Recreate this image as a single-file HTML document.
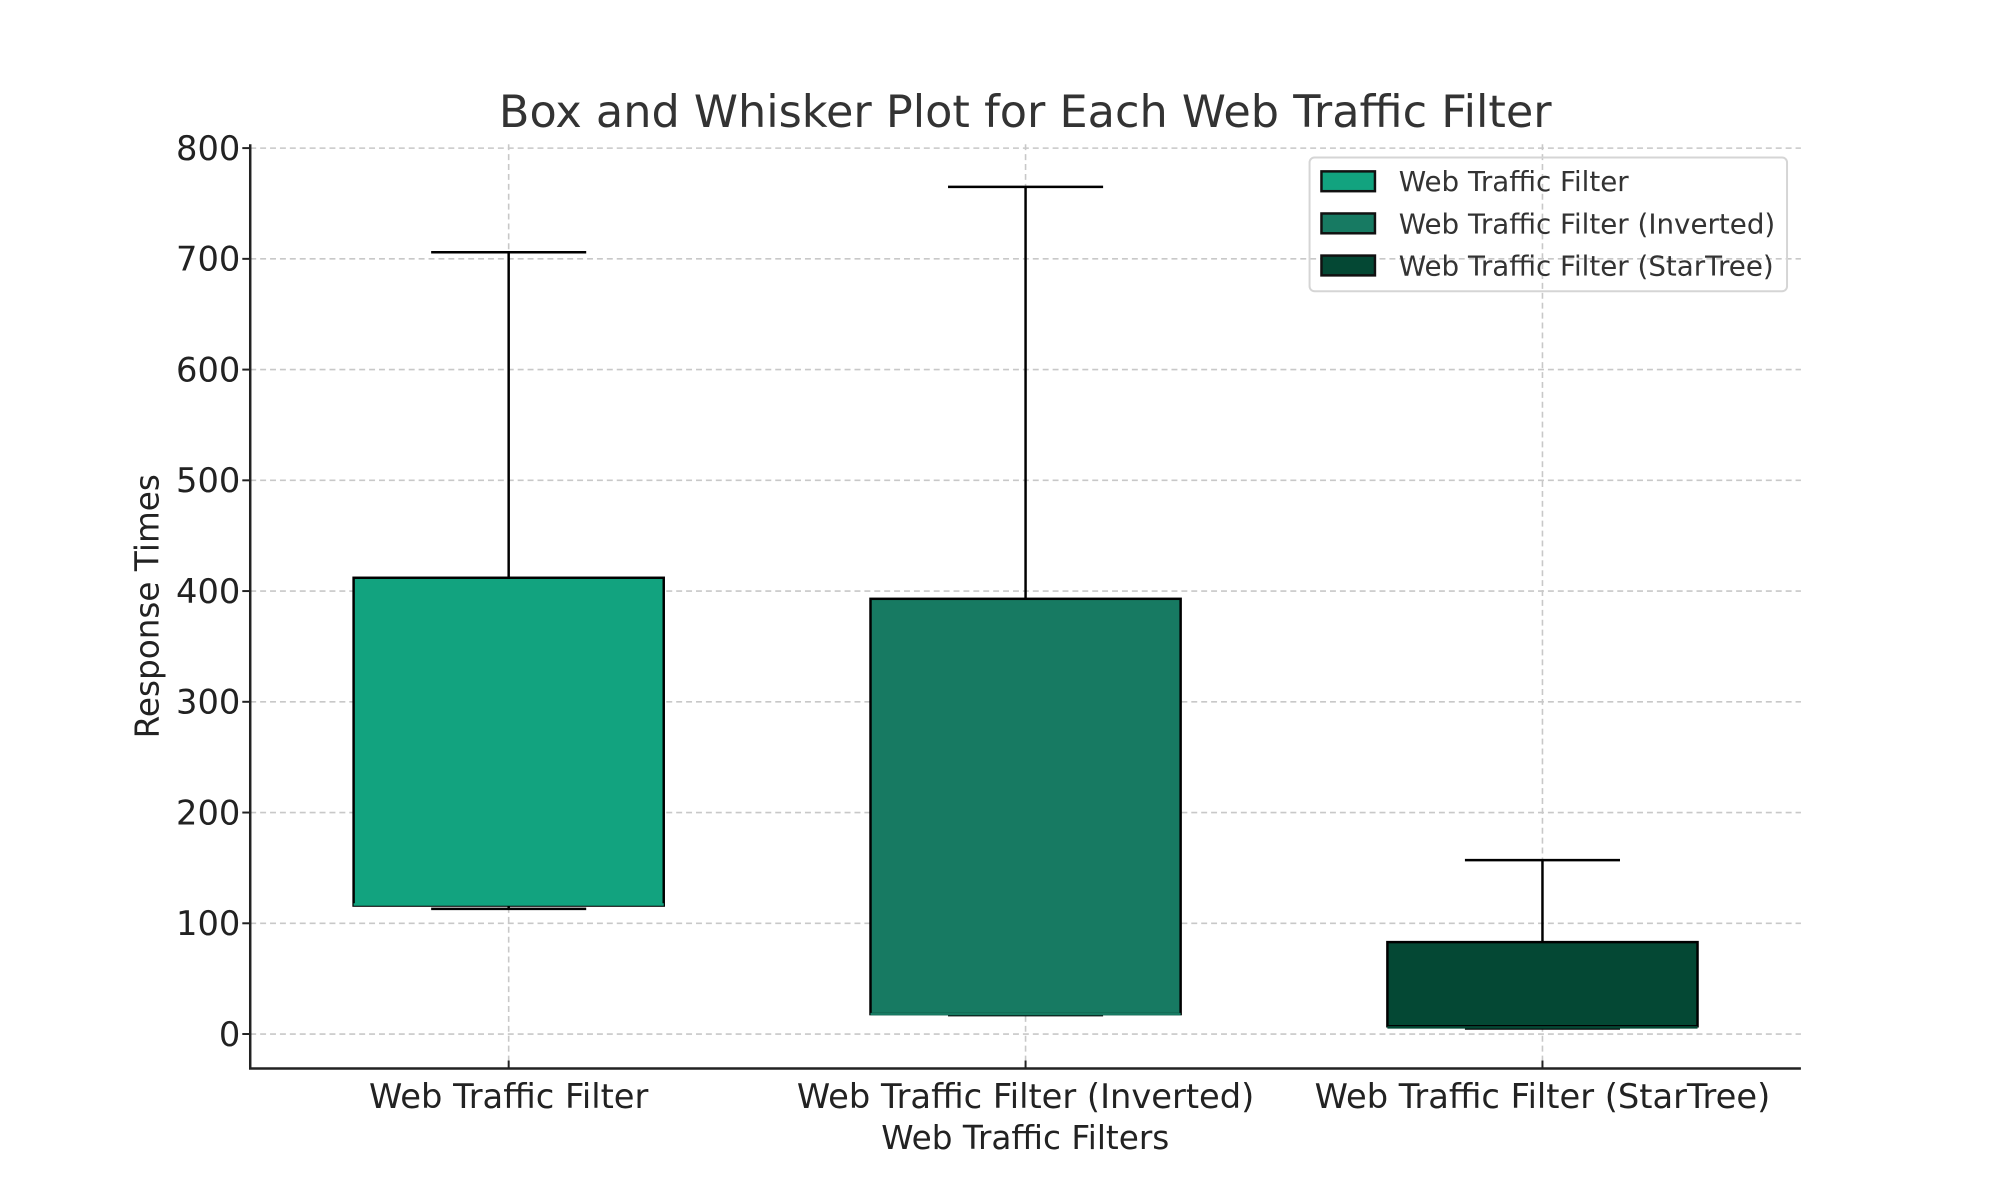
<!DOCTYPE html>
<html><head><meta charset="utf-8"><style>
html,body{margin:0;padding:0;background:#fff;}
svg{display:block;font-family:"DejaVu Sans","Liberation Sans",sans-serif;}
</style></head><body>
<svg id="chart" width="2000" height="1200" viewBox="0 0 2000 1200">
<g transform="scale(0.9906)">
<text x="1035" y="128" text-anchor="middle" font-size="45" fill="#333">Box and Whisker Plot for Each Web Traffic Filter</text>
<g id="grid"></g><g id="boxes"></g><g id="axes"></g>
<text transform="translate(160,612) rotate(-90)" text-anchor="middle" font-size="33" fill="#222">Response Times</text>
<text x="1035" y="1160" text-anchor="middle" font-size="33" fill="#222">Web Traffic Filters</text>
<g id="legend"></g>
</g>
</svg>
<script>
const categories = ["Web Traffic Filter","Web Traffic Filter (Inverted)","Web Traffic Filter (StarTree)"];
const whiskerLow = [113, 17, 5];
const q1 = [116, 18, 7];
const medians = [117, 18, 6];
const q3 = [412, 393, 83];
const whiskerHigh = [706, 765, 157];
const yTicks = [0,100,200,300,400,500,600,700,800];
const colors = ["#12a37f","#177a62","#044834"];

const NS="http://www.w3.org/2000/svg";
const L=252.6,R=1818,T=145.6,B=1078.6,yMin=-31.1,yMax=803.5;
const y=v=>B-(v-yMin)/(yMax-yMin)*(B-T);
const step=(R-L)/3.0;
const xc=i=>L+step*(i+0.5);
function el(tag,attrs,parent){const e=document.createElementNS(NS,tag);for(const k in attrs)e.setAttribute(k,attrs[k]);parent.appendChild(e);return e;}
const grid=document.getElementById('grid'),boxes=document.getElementById('boxes'),axes=document.getElementById('axes'),legend=document.getElementById('legend');
yTicks.forEach(t=>{
  const g=el('line',{x1:L,x2:R,y1:y(t),y2:y(t),stroke:'#c8c8c8','stroke-width':1.6,'stroke-dasharray':'6,4'},grid);
  
  
  const tk=el('line',{x1:L-8,x2:L,y1:y(t),y2:y(t),stroke:'#222','stroke-width':2},axes);
  
  
  const tx=el('text',{x:L-10,y:y(t)+12,'text-anchor':'end','font-size':34,fill:'#222'},axes);
  tx.textContent=t;
  
  
});
categories.forEach((c,i)=>{
  const x=xc(i);
  const g=el('line',{x1:x,x2:x,y1:T,y2:B,stroke:'#c8c8c8','stroke-width':1.6,'stroke-dasharray':'6,4'},grid);
  
  
  const bw=step*0.6,cw=step*0.3;
  const grp=el('g',{},boxes);
  
  
  el('line',{x1:x,x2:x,y1:y(q3[i]),y2:y(whiskerHigh[i]),stroke:'#000','stroke-width':2.5},grp);
  el('line',{x1:x,x2:x,y1:y(q1[i]),y2:y(whiskerLow[i]),stroke:'#000','stroke-width':2.5},grp);
  el('line',{x1:x-cw/2,x2:x+cw/2,y1:y(whiskerHigh[i]),y2:y(whiskerHigh[i]),stroke:'#000','stroke-width':2.5},grp);
  el('line',{x1:x-cw/2,x2:x+cw/2,y1:y(whiskerLow[i]),y2:y(whiskerLow[i]),stroke:'#000','stroke-width':2.5},grp);
  el('rect',{x:x-bw/2,y:y(q3[i]),width:bw,height:y(q1[i])-y(q3[i]),fill:colors[i],stroke:'#000','stroke-width':2.5},grp);
  el('line',{x1:x-bw/2,x2:x+bw/2,y1:y(medians[i]),y2:y(medians[i]),stroke:colors[i],'stroke-width':2.5},grp);
  const tk=el('line',{x1:x,x2:x,y1:B,y2:B-8,stroke:'#222','stroke-width':2},axes);
  
  
  const tx=el('text',{x:x,y:B+40,'text-anchor':'middle','font-size':34,fill:'#222'},axes);
  tx.textContent=c;
  
  
  const ly=183+i*42.5;
  const lr=el('rect',{x:1334,y:ly-10,width:54,height:20,fill:colors[i],stroke:'#111','stroke-width':2.5},legend);
  
  
  const lt=el('text',{x:1412,y:ly+10,'font-size':28,fill:'#333'},legend);
  lt.textContent=c;
  
  
});
const lb=el('rect',{x:1322,y:159,width:482,height:135,rx:5,fill:'none',stroke:'#d5d5d5','stroke-width':2},legend);


const ax=el('path',{d:`M${L},${T} L${L},${B} L${R},${B}`,fill:'none',stroke:'#222','stroke-width':2.5},axes);


</script>
</body></html>
